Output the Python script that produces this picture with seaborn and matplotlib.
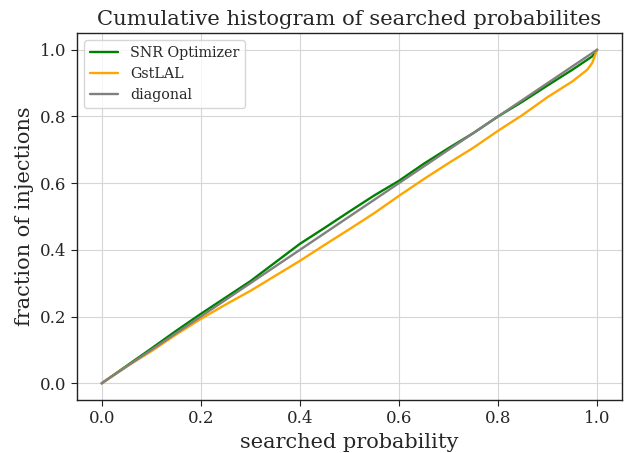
import matplotlib
matplotlib.use("Agg")
import matplotlib.pyplot as plt
import seaborn as sns
import pandas as pd

# Cumulative fraction of injections vs. searched probability
x_grid = [0.0, 0.05, 0.10, 0.15, 0.20, 0.25, 0.30, 0.35, 0.40, 0.45, 0.50,
          0.55, 0.60, 0.65, 0.70, 0.75, 0.80, 0.85, 0.90, 0.95, 0.98, 0.99, 1.0]
snr_optimizer = [0.0, 0.052, 0.104, 0.157, 0.208, 0.257, 0.306, 0.362, 0.418,
                 0.466, 0.515, 0.563, 0.607, 0.658, 0.705, 0.750, 0.800, 0.845,
                 0.893, 0.940, 0.970, 0.980, 1.0]
gstlal = [0.0, 0.050, 0.096, 0.146, 0.193, 0.236, 0.277, 0.322, 0.367, 0.415,
          0.462, 0.510, 0.562, 0.612, 0.660, 0.706, 0.757, 0.805, 0.858, 0.905,
          0.940, 0.960, 1.0]
diag_x = [0.0, 1.0]
diag_y = [0.0, 1.0]

sns.set_style("whitegrid", {"axes.edgecolor": "#222222", "grid.color": "#d6d6d6",
                            "xtick.bottom": True, "ytick.left": True})
plt.rcParams["font.family"] = ["DejaVu Serif"]

fig, ax = plt.subplots(figsize=(6.25, 4.53), dpi=100)
fig.subplots_adjust(left=0.123, right=0.995, top=0.927, bottom=0.117)

df = pd.DataFrame({"x": x_grid, "snr": snr_optimizer, "gst": gstlal})
sns.lineplot(data=df, x="x", y="snr", ax=ax, color="green", lw=1.7,
             label="SNR Optimizer")
sns.lineplot(data=df, x="x", y="gst", ax=ax, color="orange", lw=1.7,
             label="GstLAL")
sns.lineplot(x=diag_x, y=diag_y, ax=ax, color="gray", lw=1.7, label="diagonal")

ax.set_xlim(-0.05, 1.05)
ax.set_ylim(-0.05, 1.05)
ax.set_xticks([0.0, 0.2, 0.4, 0.6, 0.8, 1.0])
ax.set_yticks([0.0, 0.2, 0.4, 0.6, 0.8, 1.0])
ax.tick_params(labelsize=12, length=4, width=0.8, color="#222222")
for s in ax.spines.values():
    s.set_linewidth(1.0)

ax.set_title("Cumulative histogram of searched probabilites", fontsize=15.2)
ax.set_xlabel("searched probability", fontsize=15)
ax.set_ylabel("fraction of injections", fontsize=15)
ax.legend(loc="upper left", fontsize=10.3, frameon=True)

fig.savefig("out.png", dpi=100)
